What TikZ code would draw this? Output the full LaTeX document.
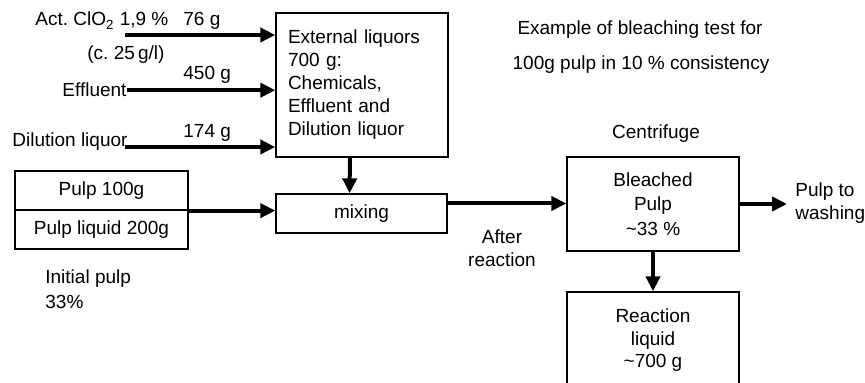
\documentclass[tikz,border=0pt]{standalone}
\usepackage{fontspec}
\setmainfont{Liberation Sans}
\usetikzlibrary{arrows.meta}
\frenchspacing

\begin{document}
\begin{tikzpicture}[x=0.5pt, y=-0.5pt,
		every node/.style={font=\fontsize{9.5}{11.5}\selectfont, inner sep=0pt},
		box/.style={draw, line width=0.65pt, align=center},
		flow/.style={line width=2pt, -{Triangle[length=7.5pt,width=7pt]}}]
			\useasboundingbox (0,0) rectangle (865,383);
			
			\node[anchor=base] (t1) at (640,35) {Example of bleaching test for};
			\node[anchor=base] (t2) at (641,70) {100g pulp in 10 \% consistency};
			
			\node[anchor=base west] (clo) at (35,26) {Act. ClO\textsubscript{2} 1,9 \%};
			\node[anchor=base west] (g76) at (183,26) {76 g};
			\node[anchor=base west] (conc) at (87,60) {(c. 25\,g/l)};
			\node[anchor=base west] (g450) at (183,80) {450 g};
			\node[anchor=base west] (eff) at (62,97) {Effluent};
			\node[anchor=base west] (dil) at (12,147) {Dilution liquor};
			\node[anchor=base west] (g174) at (183,138) {174 g};
			
			\node[box, text width=74pt, inner xsep=6pt, align=left, minimum height=72pt] (ext) at (362,85) {External liquors\\700 g:\\Chemicals,\\Effluent and\\Dilution liquor};
			\node[box, minimum width=86.5pt, minimum height=19.5pt] (pulp) at (101.5,190.5) {Pulp 100g};
			\node[box, minimum width=86.5pt, minimum height=19.5pt] (liq) at (101.5,229.5) {Pulp liquid 200g};
			\node[box, minimum width=85.5pt, minimum height=19.5pt] (mix) at (361.5,213.5) {mixing};
			\node[align=left, anchor=west] (init) at (45,289) {Initial pulp\\[1pt]33\%};
			\node[align=center] (after) at (502,248) {After\\reaction};
			
			\node[anchor=base] (centlab) at (656,139) {Centrifuge};
			\node[box, minimum width=86pt, minimum height=47pt, font=\fontsize{9.5}{12.25}\selectfont] (cent) at (653,204) {Bleached\\Pulp\\\textasciitilde 33 \%};
			\node[box, minimum width=86pt, minimum height=48.5pt, font=\fontsize{9.5}{11.25}\selectfont] (react) at (653,340.5) {Reaction\\liquid\\\textasciitilde 700 g};
			\node[align=left, anchor=west] (wash) at (795,203) {Pulp to\\washing};
			
			\coordinate (a1) at (125,35);
			\coordinate (d1) at (125,147);
			\draw[flow] (a1) -- (a1 -| ext.west);
			\draw[flow] (eff.east) -- (eff.east -| ext.west);
			\draw[flow] (d1) -- (d1 -| ext.west);
			\draw[flow] ([xshift=-6pt]ext.south) -- ([xshift=-6pt]mix.north);
			\draw[flow] (pulp.south east) -- (pulp.south east -| mix.west);
			\draw[flow] ([yshift=5pt]mix.east) -- ([yshift=5pt]mix.east -| cent.west);
			\draw[flow] (cent.south) -- (react.north);
			\draw[flow, shorten >=4pt] (cent.east) -- (cent.east -| wash.west);
		\end{tikzpicture}
\end{document}
